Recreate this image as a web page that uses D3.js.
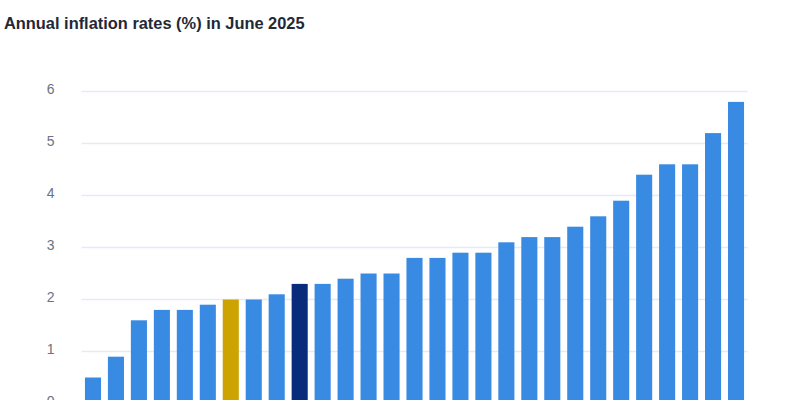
<!DOCTYPE html>
<html>
<head>
<meta charset="utf-8">
<script src="https://cdn.jsdelivr.net/npm/d3@7"></script>
<style>
  html, body { margin: 0; padding: 0; background: #fff; overflow: hidden; }
  svg { display: block; }
  text { font-family: "Liberation Sans", Arial, sans-serif; }
  .title { font-size: 16.4px; font-weight: 700; fill: #1f2937; }
  .y-axis text { font-size: 14px; fill: #6b7280; }
</style>
</head>
<body>
<div id="chart"></div>
<script>
// Values, lowest to highest. Country labels are cut off in the reference.
const values = [0.5, 0.9, 1.6, 1.8, 1.8, 1.9, 2.0, 2.0, 2.1, 2.3, 2.3, 2.4, 2.5, 2.5, 2.8,
                2.8, 2.9, 2.9, 3.1, 3.2, 3.2, 3.4, 3.6, 3.9, 4.4, 4.6, 4.6, 5.2, 5.8];
const categories = values.map((v, i) => i);
const yTicks = [0, 1, 2, 3, 4, 5, 6];
const titleText = "Annual inflation rates (%) in June 2025";

const goldIndex = 6;
const navyIndex = 9;

const width = 800, height = 400;

const svg = d3.select("#chart").append("svg")
    .attr("width", width)
    .attr("height", height);

const xScale = d3.scaleBand()
    .domain(categories)
    .range([81.5, 747.5])
    .paddingInner(0.3)
    .paddingOuter(0.15);

const yScale = d3.scaleLinear()
    .domain([0, 6])
    .range([403.5, 91.5]);

// Gridlines and labels
const yAxis = svg.append("g")
    .attr("class", "y-axis")
    .attr("transform", "translate(81.5,0)")
    .call(d3.axisLeft(yScale).tickValues(yTicks).tickFormat(d3.format("d")).tickSize(0).tickPadding(27).offset(0));

yAxis.select(".domain").remove();

yAxis.selectAll(".tick line")
    .attr("x2", 666)
    .attr("stroke", "#e6eaf6")
    .attr("stroke-width", 1.5);

yAxis.selectAll(".tick text")
    .attr("dy", "0.2em");

// Bars
svg.selectAll(".bar")
    .data(values)
    .enter().append("rect")
    .attr("class", "bar")
    .attr("x", (d, i) => xScale(i))
    .attr("y", d => yScale(d))
    .attr("width", xScale.bandwidth())
    .attr("height", d => yScale(0) - yScale(d))
    .attr("fill", (d, i) => i === goldIndex ? "#cca300" : i === navyIndex ? "#082b7c" : "#388ae2");

svg.append("text")
    .attr("class", "title")
    .attr("x", 4)
    .attr("y", 28.5)
    .text(titleText);
</script>
</body>
</html>
